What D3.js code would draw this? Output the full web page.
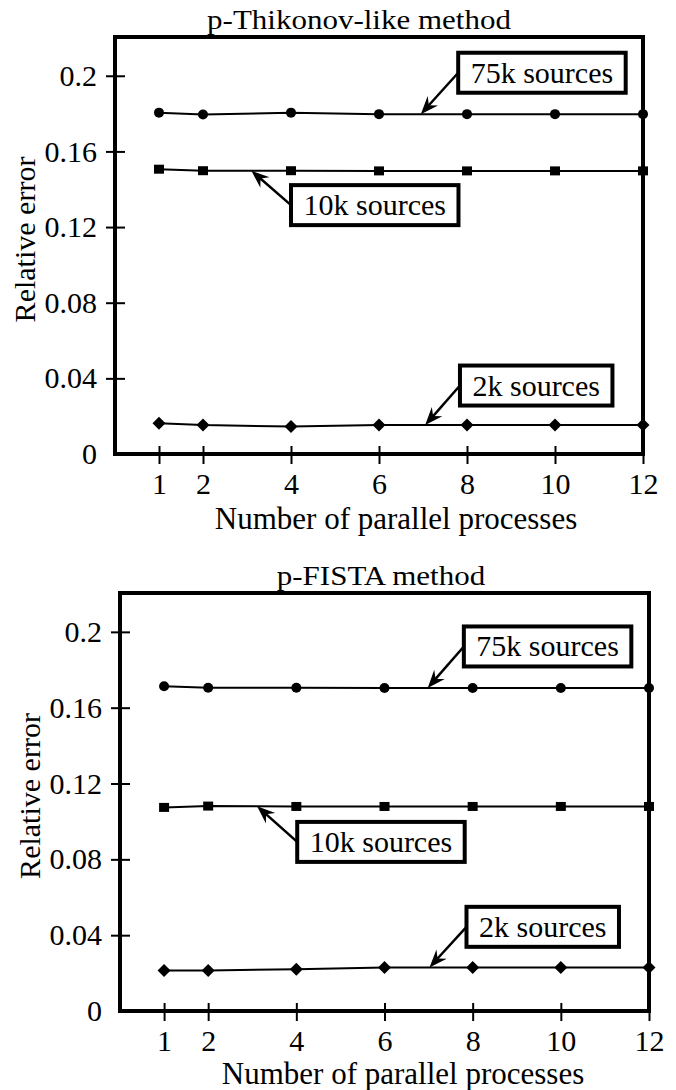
<!DOCTYPE html>
<html>
<head>
<meta charset="utf-8">
<script src="https://cdn.jsdelivr.net/npm/d3@7"></script>
<style>
  body { margin: 0; background: #fff; }
  svg { display: block; }
  svg text { font-family: "Liberation Serif", "Times New Roman", Times, serif !important; fill: #000; }
</style>
</head>
<body>
<div id="chart"></div>
<script>
// number of parallel processes
const procs = [1, 2, 4, 6, 8, 10, 12];
const xTicks = [1, 2, 4, 6, 8, 10, 12];
const yTicks = [0, 0.04, 0.08, 0.12, 0.16, 0.2];
const seriesNames = ["75k sources", "10k sources", "2k sources"];
const seriesMarkers = ["circle", "square", "diamond"];

// relative error, p-Thikonov-like method
const thik75k = [0.1805, 0.1795, 0.1805, 0.1797, 0.1797, 0.1797, 0.1797];
const thik10k = [0.1506, 0.1498, 0.1498, 0.1497, 0.1497, 0.1497, 0.1497];
const thik2k  = [0.0163, 0.0153, 0.0145, 0.0153, 0.0153, 0.0153, 0.0153];

// relative error, p-FISTA method
const fista75k = [0.1713, 0.1705, 0.1705, 0.1704, 0.1704, 0.1704, 0.1704];
const fista10k = [0.1074, 0.1081, 0.1079, 0.1079, 0.1079, 0.1079, 0.1079];
const fista2k  = [0.0214, 0.0214, 0.0220, 0.0230, 0.0230, 0.0230, 0.0230];

// callouts: arrow tip x on the line, box left edge x, box centre y (data units)
const thikArrowX = [6.95, 3.1, 7.05];
const thikBoxX   = [7.8, 4.0, 7.84];
const thikBoxY   = [0.2016, 0.1316, 0.0362];
const fistaArrowX = [6.98, 3.11, 7.02];
const fistaBoxX   = [7.8, 4.02, 7.86];
const fistaBoxY   = [0.1923, 0.0892, 0.0444];

const panels = [
    { title: "p-Thikonov-like method", series: [thik75k, thik10k, thik2k],
      arrowX: thikArrowX, boxX: thikBoxX, boxY: thikBoxY,
      left: 115, top: 37, width: 528, height: 417, titleDx: 244, xLabelDx: 281, xLabelDy: 75 },
    { title: "p-FISTA method", series: [fista75k, fista10k, fista2k],
      arrowX: fistaArrowX, boxX: fistaBoxX, boxY: fistaBoxY,
      left: 120, top: 593, width: 529, height: 418, titleDx: 261, xLabelDx: 283, xLabelDy: 73 }
];

const serif = '"Liberation Serif", "Times New Roman", Times, serif';

const svg = d3.select("#chart")
    .append("svg")
    .attr("width", 676)
    .attr("height", 1090)
    .attr("font-family", serif);

// arrow head for the callouts
svg.append("defs").append("marker")
    .attr("id", "arrowHead")
    .attr("viewBox", "-19 -8 20 16")
    .attr("refX", 0)
    .attr("refY", 0)
    .attr("markerWidth", 20)
    .attr("markerHeight", 16)
    .attr("markerUnits", "userSpaceOnUse")
    .attr("orient", "auto")
    .append("path")
    .attr("d", "M0,0 L-18,-7 L-12,0 L-18,7 Z")
    .attr("fill", "#000");

function markerPath(type) {
    if (type === "circle") return "M-5,0 A5,5 0 1,0 5,0 A5,5 0 1,0 -5,0 Z";
    if (type === "square") return "M-5,-4.5 L5,-4.5 L5,4.5 L-5,4.5 Z";
    return "M0,-6.5 L6.5,0 L0,6.5 L-6.5,0 Z";
}

panels.forEach(p => {
    const g = svg.append("g")
        .attr("transform", `translate(${p.left},${p.top})`);

    const x = d3.scaleLinear().domain([0, 12]).range([0, p.width]);
    const y = d3.scaleLinear().domain([0, 0.2205]).range([p.height, 0]);

    // title (the original text is drawn a little squashed vertically)
    g.append("text")
        .attr("transform", `translate(${p.titleDx},-8) scale(1,0.88)`)
        .attr("text-anchor", "middle")
        .attr("font-family", serif)
        .style("font-size", "31px")
        .text(p.title);

    // y axis
    const yAxis = g.append("g")
        .call(d3.axisLeft(y).tickValues(yTicks).tickSize(9).tickPadding(9)
            .tickFormat(d => d === 0 ? "0" : String(+d.toFixed(2))))
        .attr("font-family", serif);
    yAxis.select(".domain").remove();
    yAxis.selectAll(".tick line")
        .attr("x1", d => d === 0 ? 0 : 10)
        .attr("x2", d => d === 0 ? 0 : -9)
        .attr("stroke", "#000")
        .attr("stroke-width", 2);
    yAxis.selectAll(".tick text")
        .style("font-size", "30px")
        .attr("fill", "#000");

    // x axis
    const xAxis = g.append("g")
        .attr("transform", `translate(0,${p.height})`)
        .call(d3.axisBottom(x).tickValues(xTicks).tickSize(10).tickPadding(9))
        .attr("font-family", serif);
    xAxis.select(".domain").remove();
    xAxis.selectAll(".tick line")
        .attr("y1", -8)
        .attr("stroke", "#000")
        .attr("stroke-width", 2);
    xAxis.selectAll(".tick text")
        .style("font-size", "30px")
        .attr("fill", "#000");

    // axis labels
    g.append("text")
        .attr("transform", `translate(${p.xLabelDx},${p.height + p.xLabelDy})`)
        .attr("text-anchor", "middle")
        .style("font-size", "31px")
        .text("Number of parallel processes");

    g.append("text")
        .attr("transform", `translate(-80,${p.height / 2 - 6}) rotate(-90)`)
        .attr("text-anchor", "middle")
        .style("font-size", "30px")
        .text("Relative error");

    // frame
    g.append("rect")
        .attr("x", 0)
        .attr("y", 0)
        .attr("width", p.width)
        .attr("height", p.height)
        .attr("fill", "none")
        .attr("stroke", "#000")
        .attr("stroke-width", 4);

    const line = d3.line()
        .x((d, i) => x(procs[i]))
        .y(d => y(d));

    p.series.forEach((values, s) => {
        g.append("path")
            .datum(values)
            .attr("d", line)
            .attr("fill", "none")
            .attr("stroke", "#000")
            .attr("stroke-width", 2);

        g.selectAll(".pt" + s)
            .data(values)
            .enter()
            .append("path")
            .attr("class", "pt" + s)
            .attr("transform", (d, i) => `translate(${x(procs[i])},${y(d)})`)
            .attr("d", markerPath(seriesMarkers[s]))
            .attr("fill", "#000");

        // callout box with arrow to the line
        const onLine = d3.scaleLinear().domain(procs).range(values);
        const tipX = x(p.arrowX[s]);
        const tipY = y(onLine(p.arrowX[s]));
        const bx = x(p.boxX[s]);
        const by = y(p.boxY[s]);

        const box = g.append("g");
        const rect = box.append("rect")
            .attr("fill", "#fff")
            .attr("stroke", "#000")
            .attr("stroke-width", 4);
        const label = box.append("text")
            .attr("x", bx + 12.5)
            .attr("y", by + 10)
            .style("font-size", "30px")
            .text(seriesNames[s]);
        const tw = label.node().getComputedTextLength();
        rect.attr("x", bx)
            .attr("y", by - 20)
            .attr("width", tw + 25)
            .attr("height", 40);

        // stop the shaft short so it hides under the head
        const dx = tipX - bx, dy = tipY - by;
        const len = Math.sqrt(dx * dx + dy * dy);
        g.append("line")
            .attr("x1", bx)
            .attr("y1", by)
            .attr("x2", tipX - dx / len * 10)
            .attr("y2", tipY - dy / len * 10)
            .attr("stroke", "#000")
            .attr("stroke-width", 2.5);
        g.append("line")
            .attr("x1", tipX - dx / len * 10)
            .attr("y1", tipY - dy / len * 10)
            .attr("x2", tipX)
            .attr("y2", tipY)
            .attr("stroke", "none")
            .attr("marker-end", "url(#arrowHead)");
    });
});
</script>
</body>
</html>
